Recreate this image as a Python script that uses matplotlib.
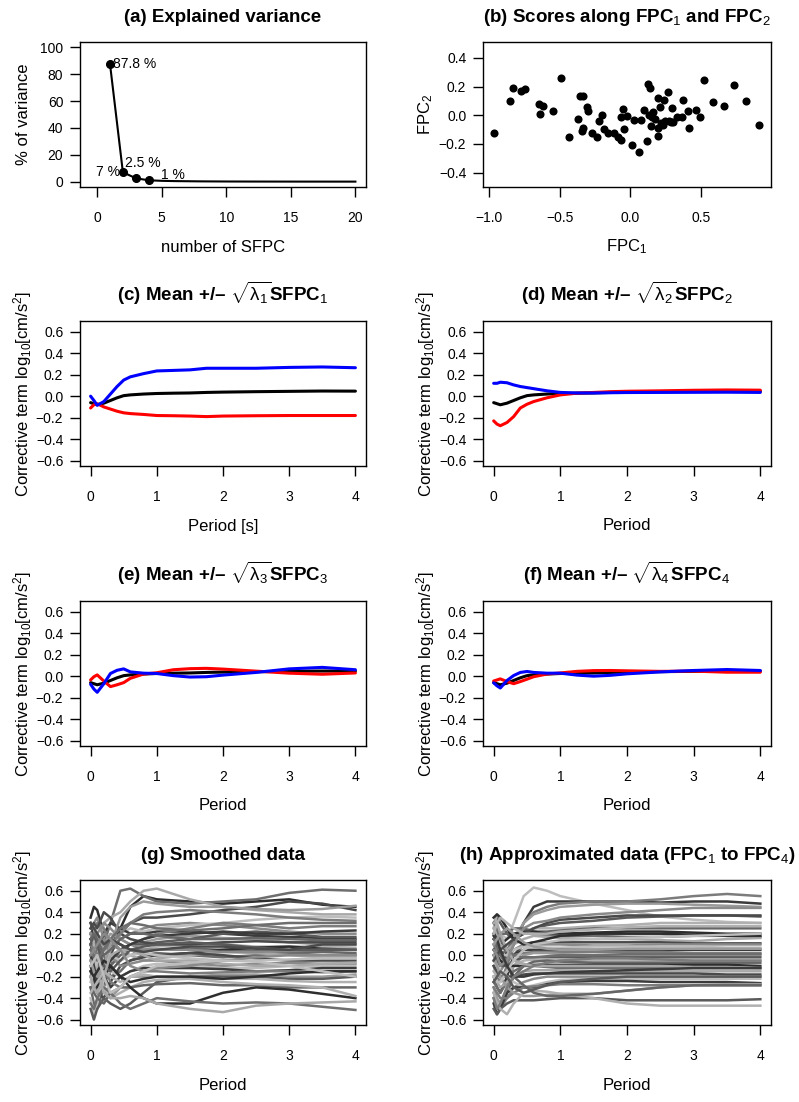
import matplotlib
matplotlib.use('Agg')
import matplotlib.pyplot as plt
import matplotlib as mpl

mpl.rcParams['font.family'] = ['Liberation Sans', 'DejaVu Sans']
mpl.rcParams['mathtext.fontset'] = 'custom'
mpl.rcParams['mathtext.rm'] = 'Liberation Sans'
mpl.rcParams['mathtext.it'] = 'Liberation Sans:italic'
mpl.rcParams['mathtext.bf'] = 'Liberation Sans:bold'

# ---- (a) explained variance ----
n_sfpc = list(range(1, 21))
pct_var = [87.8, 7.0, 2.5, 1.0, 0.6, 0.4, 0.3, 0.2, 0.15, 0.1,
           0.08, 0.06, 0.05, 0.04, 0.03, 0.02, 0.02, 0.01, 0.01, 0.01]

# ---- (b) scores ----
fpc1_scores = [-0.962, -0.851, -0.833, -0.776, -0.745, -0.646, -0.639, -0.616, -0.550, -0.493,
               -0.436, -0.368, -0.354, -0.333, -0.344, -0.333, -0.309, -0.297, -0.269, -0.233,
               -0.219, -0.198, -0.184, -0.158, -0.118, -0.087, -0.068, -0.064, -0.054, -0.042,
               -0.021, 0.012, 0.026, 0.064, 0.078, 0.094, 0.116, 0.127, 0.139, 0.134,
               0.144, 0.153, 0.163, 0.177, 0.193, 0.193, 0.198, 0.208, 0.215, 0.231,
               0.238, 0.248, 0.264, 0.271, 0.285, 0.295, 0.300, 0.328, 0.368, 0.370,
               0.408, 0.417, 0.465, 0.495, 0.517, 0.587, 0.663, 0.733, 0.814, 0.908]
fpc2_scores = [-0.123, 0.097, 0.191, 0.168, 0.184, 0.080, 0.007, 0.066, 0.026, 0.258,
               -0.149, -0.024, 0.135, 0.135, -0.111, -0.092, 0.057, 0.026, -0.121, -0.151,
               -0.038, 0.002, -0.097, -0.121, -0.121, -0.149, -0.170, -0.014, 0.040, -0.097,
               -0.005, -0.206, -0.035, -0.253, -0.033, 0.033, -0.180, 0.217, 0.187, 0.002,
               -0.078, -0.009, 0.021, -0.026, -0.092, 0.118, -0.144, 0.057, -0.052, -0.066,
               0.109, -0.040, 0.163, -0.040, -0.045, 0.047, -0.047, -0.012, -0.014, 0.106,
               0.026, -0.090, 0.035, -0.009, 0.246, 0.090, 0.061, 0.213, 0.099, -0.069]

# ---- (c)-(f) mean +/- sqrt(lambda) SFPC ----
period = [0, 0.05, 0.1, 0.2, 0.3, 0.4, 0.5, 0.6, 0.8, 1.0, 1.25, 1.5, 1.75, 2.0, 2.5, 3.0, 3.5, 4.0]
mean_curve = [-0.06, -0.07, -0.08, -0.065, -0.04, -0.015, 0.005, 0.012, 0.02, 0.025,
              0.028, 0.03, 0.035, 0.038, 0.042, 0.045, 0.048, 0.047]
plus1 = [0.0, -0.04, -0.085, -0.05, 0.02, 0.09, 0.15, 0.18, 0.21, 0.235,
         0.24, 0.245, 0.26, 0.26, 0.26, 0.268, 0.272, 0.265]
minus1 = [-0.11, -0.08, -0.07, -0.1, -0.12, -0.14, -0.155, -0.162, -0.17, -0.18,
          -0.182, -0.185, -0.19, -0.185, -0.182, -0.18, -0.18, -0.18]
plus2 = [0.12, 0.12, 0.13, 0.125, 0.105, 0.09, 0.08, 0.07, 0.05, 0.035,
         0.03, 0.03, 0.032, 0.034, 0.035, 0.036, 0.037, 0.035]
minus2 = [-0.23, -0.26, -0.275, -0.245, -0.19, -0.11, -0.075, -0.05, -0.015, 0.012,
          0.028, 0.035, 0.042, 0.046, 0.05, 0.055, 0.058, 0.056]
plus3 = [-0.075, -0.12, -0.15, -0.07, 0.025, 0.055, 0.068, 0.04, 0.028, 0.025,
         0.005, -0.008, -0.005, 0.01, 0.035, 0.068, 0.082, 0.06]
minus3 = [-0.035, -0.005, 0.012, -0.045, -0.097, -0.08, -0.06, -0.02, 0.02, 0.032,
          0.06, 0.07, 0.073, 0.066, 0.047, 0.028, 0.018, 0.03]
plus4 = [-0.062, -0.09, -0.11, -0.04, 0.006, 0.035, 0.044, 0.035, 0.028, 0.028,
         0.01, 0.0, 0.008, 0.022, 0.04, 0.053, 0.062, 0.053]
minus4 = [-0.045, -0.035, -0.025, -0.05, -0.07, -0.05, -0.028, -0.005, 0.02, 0.03,
          0.045, 0.052, 0.053, 0.05, 0.045, 0.047, 0.037, 0.037]

# ---- (g) smoothed and (h) approximated curves ----
curve_period = [0, 0.05, 0.1, 0.2, 0.3, 0.45, 0.6, 0.8, 1.0, 1.5, 2.0, 2.5, 3.0, 3.5, 4.0]
smoothed = [
    [0.35, 0.45, 0.42, 0.2, 0.1, 0.25, 0.45, 0.55, 0.52, 0.5, 0.48, 0.5, 0.52, 0.47, 0.45],
    [0.1, 0.0, -0.2, 0.1, 0.3, 0.6, 0.62, 0.55, 0.5, 0.48, 0.5, 0.52, 0.58, 0.61, 0.6],
    [-0.2, -0.35, -0.1, 0.3, 0.35, 0.4, 0.5, 0.6, 0.62, 0.52, 0.45, 0.42, 0.4, 0.38, 0.38],
    [0.2, 0.25, 0.1, -0.1, 0.0, 0.2, 0.3, 0.35, 0.35, 0.38, 0.42, 0.45, 0.5, 0.48, 0.42],
    [0.25, 0.3, 0.35, 0.15, 0.05, 0.15, 0.2, 0.25, 0.28, 0.3, 0.28, 0.25, 0.22, 0.2, 0.2],
    [0.05, -0.1, -0.3, -0.2, 0.05, 0.2, 0.25, 0.22, 0.25, 0.28, 0.3, 0.33, 0.35, 0.36, 0.35],
    [0.3, 0.2, 0.05, 0.2, 0.3, 0.25, 0.2, 0.2, 0.22, 0.22, 0.2, 0.18, 0.17, 0.16, 0.15],
    [0.15, 0.2, 0.3, 0.25, 0.1, 0.05, 0.1, 0.15, 0.2, 0.25, 0.3, 0.28, 0.25, 0.27, 0.27],
    [-0.1, -0.2, -0.05, 0.1, 0.2, 0.15, 0.1, 0.12, 0.15, 0.18, 0.16, 0.15, 0.12, 0.1, 0.1],
    [0.2, 0.1, 0.0, -0.15, -0.1, 0.05, 0.1, 0.1, 0.12, 0.15, 0.2, 0.22, 0.2, 0.17, 0.17],
    [0.0, 0.1, 0.2, 0.1, -0.05, -0.05, 0.0, 0.05, 0.08, 0.1, 0.1, 0.08, 0.08, 0.08, 0.07],
    [-0.3, -0.45, -0.5, -0.3, -0.1, 0.0, 0.05, 0.05, 0.05, 0.06, 0.05, 0.04, 0.03, 0.03, 0.02],
    [0.1, 0.0, -0.1, 0.05, 0.15, 0.1, 0.05, 0.0, 0.0, 0.02, 0.05, 0.07, 0.08, 0.06, 0.05],
    [-0.05, 0.05, 0.15, 0.0, -0.2, -0.15, -0.05, 0.0, 0.02, 0.0, -0.02, 0.0, 0.02, 0.0, 0.0],
    [0.3, 0.25, 0.1, -0.1, -0.05, 0.05, 0.0, -0.05, -0.03, 0.0, 0.03, 0.02, 0.0, -0.02, -0.02],
    [-0.15, -0.25, -0.35, -0.4, -0.25, -0.1, -0.05, -0.02, 0.0, 0.02, 0.0, -0.03, -0.05, -0.05, -0.05],
    [0.05, 0.0, 0.05, 0.15, 0.0, -0.1, -0.08, -0.05, -0.05, -0.08, -0.1, -0.08, -0.07, -0.08, -0.08],
    [-0.4, -0.55, -0.45, -0.2, -0.15, -0.2, -0.15, -0.1, -0.08, -0.1, -0.12, -0.12, -0.1, -0.1, -0.1],
    [0.15, 0.1, -0.05, -0.2, -0.3, -0.2, -0.15, -0.12, -0.12, -0.12, -0.13, -0.15, -0.14, -0.12, -0.12],
    [-0.2, -0.1, 0.0, -0.1, -0.25, -0.3, -0.2, -0.15, -0.15, -0.17, -0.16, -0.15, -0.15, -0.16, -0.15],
    [0.0, -0.1, -0.2, -0.35, -0.4, -0.3, -0.2, -0.2, -0.2, -0.2, -0.18, -0.18, -0.2, -0.2, -0.18],
    [-0.5, -0.6, -0.5, -0.4, -0.45, -0.5, -0.45, -0.35, -0.25, -0.2, -0.2, -0.2, -0.22, -0.22, -0.2],
    [0.2, 0.1, -0.1, -0.3, -0.4, -0.35, -0.3, -0.25, -0.23, -0.22, -0.22, -0.22, -0.24, -0.25, -0.25],
    [-0.3, -0.35, -0.4, -0.45, -0.35, -0.3, -0.3, -0.28, -0.27, -0.26, -0.28, -0.28, -0.3, -0.3, -0.3],
    [-0.1, -0.2, -0.3, -0.2, -0.1, -0.2, -0.3, -0.4, -0.45, -0.45, -0.35, -0.3, -0.32, -0.36, -0.4],
    [-0.45, -0.5, -0.4, -0.3, -0.35, -0.45, -0.5, -0.45, -0.4, -0.43, -0.45, -0.44, -0.45, -0.48, -0.51],
    [0.1, 0.05, -0.15, -0.35, -0.4, -0.4, -0.38, -0.4, -0.45, -0.5, -0.53, -0.47, -0.45, -0.44, -0.43],
    [0.25, 0.3, 0.25, 0.4, 0.35, 0.2, 0.15, 0.12, 0.1, 0.1, 0.12, 0.13, 0.12, 0.12, 0.12],
    [0.2, 0.15, 0.2, 0.3, 0.25, 0.15, 0.1, 0.05, 0.05, 0.05, 0.03, 0.03, 0.04, 0.05, 0.05],
    [-0.25, -0.15, -0.05, 0.05, 0.0, -0.05, 0.0, 0.02, 0.0, -0.03, -0.05, -0.05, -0.04, -0.03, -0.03],
    [0.0, -0.1, -0.25, -0.15, -0.05, 0.05, 0.1, 0.15, 0.18, 0.2, 0.22, 0.2, 0.2, 0.22, 0.23],
    [0.1, 0.05, 0.0, 0.05, 0.1, 0.2, 0.3, 0.38, 0.4, 0.42, 0.4, 0.38, 0.35, 0.33, 0.32],
    [-0.05, -0.15, -0.2, -0.1, 0.1, 0.35, 0.45, 0.5, 0.48, 0.45, 0.45, 0.43, 0.42, 0.43, 0.46],
    [0.1, 0.2, 0.1, -0.1, -0.15, -0.05, 0.05, 0.08, 0.1, 0.12, 0.1, 0.07, 0.05, 0.05, 0.05],
    [-0.35, -0.3, -0.25, -0.15, -0.2, -0.25, -0.2, -0.18, -0.2, -0.22, -0.25, -0.27, -0.28, -0.3, -0.38],
    [0.15, 0.2, 0.15, 0.0, 0.05, 0.15, 0.2, 0.2, 0.18, 0.15, 0.15, 0.16, 0.15, 0.14, 0.14],
    [-0.15, -0.2, -0.15, -0.05, -0.1, -0.2, -0.25, -0.22, -0.2, -0.2, -0.22, -0.2, -0.17, -0.15, -0.15],
    [0.05, 0.0, -0.05, 0.05, 0.15, 0.25, 0.3, 0.28, 0.25, 0.23, 0.25, 0.28, 0.3, 0.3, 0.3],
    [-0.2, -0.3, -0.35, -0.2, 0.0, 0.05, 0.05, 0.0, -0.05, -0.05, -0.08, -0.1, -0.1, -0.08, -0.07],
    [0.3, 0.25, 0.2, 0.1, 0.15, 0.1, 0.05, 0.03, 0.05, 0.08, 0.08, 0.06, 0.05, 0.1, 0.1],
    [0.0, 0.05, 0.1, 0.2, 0.15, 0.05, -0.1, -0.15, -0.12, -0.1, -0.05, -0.02, 0.0, 0.0, 0.0],
    [-0.1, -0.05, 0.0, -0.2, -0.35, -0.3, -0.2, -0.15, -0.1, -0.07, -0.05, -0.06, -0.1, -0.15, -0.2],
]
approximated = [
    [0.2, 0.25, 0.2, 0.15, 0.3, 0.55, 0.63, 0.6, 0.55, 0.48, 0.42, 0.36, 0.33, 0.31, 0.3],
    [0.15, 0.2, 0.15, 0.0, 0.1, 0.3, 0.45, 0.5, 0.5, 0.5, 0.5, 0.49, 0.5, 0.5, 0.48],
    [-0.1, -0.2, -0.25, -0.1, 0.1, 0.3, 0.4, 0.45, 0.48, 0.5, 0.5, 0.52, 0.55, 0.57, 0.55],
    [0.0, -0.05, -0.1, 0.0, 0.15, 0.3, 0.38, 0.42, 0.45, 0.47, 0.48, 0.48, 0.47, 0.46, 0.45],
    [0.3, 0.35, 0.3, 0.2, 0.15, 0.2, 0.25, 0.28, 0.3, 0.32, 0.35, 0.36, 0.37, 0.37, 0.36],
    [0.25, 0.38, 0.35, 0.25, 0.2, 0.22, 0.25, 0.25, 0.25, 0.27, 0.28, 0.3, 0.3, 0.3, 0.3],
    [0.2, 0.22, 0.2, 0.2, 0.25, 0.25, 0.22, 0.22, 0.23, 0.25, 0.25, 0.25, 0.25, 0.25, 0.25],
    [0.18, 0.15, 0.1, 0.15, 0.2, 0.22, 0.22, 0.2, 0.2, 0.21, 0.22, 0.22, 0.21, 0.2, 0.2],
    [0.1, 0.05, 0.0, 0.05, 0.15, 0.2, 0.2, 0.18, 0.18, 0.18, 0.17, 0.17, 0.18, 0.18, 0.17],
    [0.25, 0.2, 0.1, 0.05, 0.1, 0.15, 0.18, 0.17, 0.16, 0.15, 0.15, 0.14, 0.13, 0.15, 0.16],
    [0.05, 0.1, 0.05, -0.05, 0.0, 0.1, 0.12, 0.12, 0.12, 0.12, 0.12, 0.12, 0.11, 0.11, 0.11],
    [-0.05, -0.1, -0.15, -0.05, 0.05, 0.1, 0.1, 0.1, 0.1, 0.09, 0.09, 0.1, 0.1, 0.1, 0.1],
    [0.0, 0.05, 0.0, 0.0, 0.05, 0.08, 0.08, 0.07, 0.07, 0.08, 0.08, 0.08, 0.08, 0.07, 0.07],
    [-0.2, -0.3, -0.35, -0.2, 0.0, 0.05, 0.05, 0.05, 0.05, 0.05, 0.05, 0.05, 0.05, 0.05, 0.05],
    [0.1, 0.05, 0.0, -0.05, 0.0, 0.02, 0.03, 0.03, 0.03, 0.03, 0.03, 0.03, 0.02, 0.02, 0.02],
    [-0.3, -0.4, -0.45, -0.3, -0.1, 0.0, 0.02, 0.02, 0.01, 0.0, 0.0, 0.0, 0.0, 0.0, 0.0],
    [0.0, -0.05, -0.1, -0.1, -0.05, -0.02, -0.02, -0.02, -0.02, -0.02, -0.02, -0.02, -0.02, -0.02, -0.02],
    [-0.15, -0.2, -0.2, -0.15, -0.1, -0.05, -0.04, -0.04, -0.04, -0.05, -0.05, -0.05, -0.05, -0.05, -0.05],
    [-0.4, -0.5, -0.5, -0.35, -0.2, -0.1, -0.06, -0.05, -0.06, -0.07, -0.07, -0.07, -0.07, -0.07, -0.07],
    [0.05, 0.0, -0.05, -0.1, -0.1, -0.1, -0.09, -0.09, -0.09, -0.09, -0.09, -0.09, -0.09, -0.09, -0.1],
    [-0.25, -0.3, -0.35, -0.25, -0.15, -0.1, -0.1, -0.11, -0.12, -0.12, -0.12, -0.12, -0.12, -0.12, -0.12],
    [-0.2, -0.25, -0.3, -0.25, -0.2, -0.15, -0.14, -0.14, -0.14, -0.15, -0.15, -0.15, -0.15, -0.15, -0.15],
    [-0.1, -0.15, -0.2, -0.2, -0.2, -0.18, -0.17, -0.17, -0.17, -0.17, -0.17, -0.17, -0.17, -0.18, -0.18],
    [-0.35, -0.45, -0.5, -0.4, -0.3, -0.25, -0.22, -0.2, -0.2, -0.2, -0.2, -0.2, -0.2, -0.2, -0.2],
    [-0.05, -0.1, -0.15, -0.2, -0.25, -0.3, -0.28, -0.25, -0.23, -0.22, -0.22, -0.22, -0.22, -0.22, -0.22],
    [-0.45, -0.55, -0.5, -0.35, -0.3, -0.3, -0.3, -0.27, -0.25, -0.24, -0.24, -0.25, -0.25, -0.25, -0.26],
    [-0.3, -0.35, -0.4, -0.4, -0.35, -0.3, -0.29, -0.28, -0.27, -0.27, -0.28, -0.28, -0.28, -0.28, -0.28],
    [0.0, -0.1, -0.2, -0.3, -0.35, -0.38, -0.38, -0.37, -0.36, -0.36, -0.33, -0.3, -0.28, -0.27, -0.27],
    [-0.5, -0.55, -0.5, -0.45, -0.42, -0.42, -0.42, -0.41, -0.4, -0.4, -0.42, -0.42, -0.42, -0.42, -0.41],
    [-0.35, -0.45, -0.5, -0.55, -0.45, -0.35, -0.33, -0.34, -0.36, -0.4, -0.45, -0.47, -0.47, -0.47, -0.47],
    [0.15, 0.1, 0.0, -0.1, -0.2, -0.28, -0.35, -0.38, -0.38, -0.36, -0.33, -0.3, -0.28, -0.28, -0.28],
    [0.35, 0.38, 0.35, 0.25, 0.15, 0.1, 0.12, 0.15, 0.18, 0.2, 0.2, 0.2, 0.19, 0.18, 0.18],
    [0.3, 0.25, 0.15, 0.05, 0.0, -0.02, -0.02, -0.01, 0.0, 0.0, 0.01, 0.01, 0.01, 0.01, 0.01],
    [0.3, 0.3, 0.2, 0.05, -0.05, -0.08, -0.1, -0.1, -0.1, -0.1, -0.1, -0.1, -0.11, -0.11, -0.12],
    [-0.05, 0.0, 0.05, 0.1, 0.15, 0.2, 0.25, 0.3, 0.33, 0.35, 0.37, 0.37, 0.37, 0.37, 0.37],
    [0.05, 0.0, -0.1, -0.05, 0.1, 0.25, 0.3, 0.32, 0.35, 0.38, 0.4, 0.42, 0.44, 0.44, 0.44],
    [-0.2, -0.25, -0.25, -0.15, -0.05, 0.05, 0.1, 0.12, 0.14, 0.15, 0.16, 0.17, 0.18, 0.19, 0.2],
    [0.2, 0.15, 0.05, -0.1, -0.2, -0.2, -0.18, -0.17, -0.16, -0.15, -0.14, -0.13, -0.12, -0.12, -0.12],
    [-0.4, -0.5, -0.45, -0.3, -0.2, -0.15, -0.1, -0.07, -0.05, -0.03, -0.03, -0.04, -0.05, -0.05, -0.05],
    [0.1, 0.15, 0.2, 0.25, 0.2, 0.12, 0.08, 0.06, 0.05, 0.05, 0.06, 0.06, 0.06, 0.06, 0.06],
    [-0.25, -0.2, -0.15, -0.2, -0.3, -0.35, -0.32, -0.28, -0.25, -0.22, -0.2, -0.2, -0.2, -0.2, -0.2],
    [0.2, 0.3, 0.35, 0.3, 0.25, 0.2, 0.2, 0.2, 0.22, 0.24, 0.26, 0.27, 0.27, 0.27, 0.27],
]
grays = ['#2e2e2e', '#6e6e6e', '#a8a8a8', '#4a4a4a', '#8a8a8a', '#bdbdbd',
         '#3b3b3b', '#7c7c7c', '#9a9a9a', '#5a5a5a', '#b0b0b0', '#666666']

W, H = 799, 1102
fig = plt.figure(figsize=(W / 100, H / 100), dpi=100)

TICK_FS = 10
LAB_FS = 12
TITLE_FS = 13.5
AX_H = 145


def make_ax(x0, top, w):
    ax = fig.add_axes([x0 / W, 1 - (top + AX_H) / H, w / W, AX_H / H])
    for s in ax.spines.values():
        s.set_linewidth(1.0)
    ax.tick_params(direction='out', length=7, width=1.0, labelsize=TICK_FS)
    ax.tick_params(axis='x', pad=10)
    ax.tick_params(axis='y', pad=5)
    return ax


def finish(ax, w, title, xlabel, ylabel):
    ax.set_xlabel(xlabel, fontsize=LAB_FS)
    ax.set_ylabel(ylabel, fontsize=LAB_FS)
    ax.xaxis.set_label_coords(0.5, -60 / AX_H)
    ax.xaxis.label.set_va('center')
    ax.yaxis.set_label_coords(-57 / w, 0.5)
    ax.yaxis.label.set_va('center')
    ax.text(0.5, 1 + 20 / AX_H, title, transform=ax.transAxes, ha='center',
            va='baseline', fontsize=TITLE_FS, fontweight='bold')


YLAB = r'Corrective term log$_{10}$[cm/s$^2$]'
cols = [(80, 286), (483, 288)]
tops = [42, 321, 601, 880]

# (a)
x0, w = cols[0]
ax = make_ax(x0, tops[0], w)
ax.plot(n_sfpc, pct_var, color='black', lw=1.5)
ax.plot(n_sfpc[:4], pct_var[:4], 'o', color='black', ms=5.5)
ax.text(n_sfpc[0] + 0.25, pct_var[0], '87.8 %', fontsize=TICK_FS, ha='left', va='center')
ax.text(n_sfpc[1] - 0.25, pct_var[1], '7 %', fontsize=TICK_FS, ha='right', va='center')
ax.text(n_sfpc[2] - 0.8, pct_var[2] + 11.5, '2.5 %', fontsize=TICK_FS, ha='left', va='center')
ax.text(n_sfpc[3] + 0.95, pct_var[3] + 4.0, '1 %', fontsize=TICK_FS, ha='left', va='center')
ax.set_xlim(-1.32, 20.82)
ax.set_ylim(-4, 104)
ax.set_xticks([0, 5, 10, 15, 20])
ax.set_yticks([0, 20, 40, 60, 80, 100])
finish(ax, w, '(a) Explained variance', 'number of SFPC', '% of variance')

# (b)
x0, w = cols[1]
ax = make_ax(x0, tops[0], w)
ax.scatter(fpc1_scores, fpc2_scores, s=34, color='black', linewidths=0)
ax.set_xlim(-1.042, 0.994)
ax.set_ylim(-0.5, 0.51)
ax.set_xticks([-1.0, -0.5, 0.0, 0.5])
ax.set_xticklabels(['\u22121.0', '\u22120.5', '0.0', '0.5'])
ax.set_yticks([-0.4, -0.2, 0.0, 0.2, 0.4])
ax.set_yticklabels(['\u22120.4', '\u22120.2', '0.0', '0.2', '0.4'])
finish(ax, w, r'(b) Scores along FPC$_1$ and FPC$_2$', r'FPC$_1$', r'FPC$_2$')

ytk = [-0.6, -0.4, -0.2, 0.0, 0.2, 0.4, 0.6]
ytl = ['\u22120.6', '\u22120.4', '\u22120.2', '0.0', '0.2', '0.4', '0.6']


def curve_axes(ax):
    ax.set_xlim(-0.16, 4.16)
    ax.set_ylim(-0.65, 0.70)
    ax.set_xticks([0, 1, 2, 3, 4])
    ax.set_yticks(ytk)
    ax.set_yticklabels(ytl)


panels = [
    ('c', plus1, minus1, 'Period [s]'),
    ('d', plus2, minus2, 'Period'),
    ('e', plus3, minus3, 'Period'),
    ('f', plus4, minus4, 'Period'),
]
for i, (letter, plus, minus, xl) in enumerate(panels):
    k = i + 1
    x0, w = cols[i % 2]
    ax = make_ax(x0, tops[1 + i // 2], w)
    ax.plot(period, mean_curve, color='black', lw=2.2, solid_capstyle='round')
    ax.plot(period, minus, color='#ff0000', lw=2.2, solid_capstyle='round')
    ax.plot(period, plus, color='#0000ff', lw=2.2, solid_capstyle='round')
    curve_axes(ax)
    title = '(%s) Mean +/\u2013 $\\sqrt{\\mathrm{\\lambda}_%d}$SFPC$_%d$' % (letter, k, k)
    finish(ax, w, title, xl, YLAB)

# (g)
x0, w = cols[0]
ax = make_ax(x0, tops[3], w)
for j, c in enumerate(smoothed):
    ax.plot(curve_period, c, color=grays[j % len(grays)], lw=1.8, solid_joinstyle='round')
curve_axes(ax)
finish(ax, w, '(g) Smoothed data', 'Period', YLAB)

# (h)
x0, w = cols[1]
ax = make_ax(x0, tops[3], w)
for j, c in enumerate(approximated):
    ax.plot(curve_period, c, color=grays[(j + 5) % len(grays)], lw=1.8, solid_joinstyle='round')
curve_axes(ax)
finish(ax, w, r'(h) Approximated data (FPC$_1$ to FPC$_4$)', 'Period', YLAB)

fig.savefig('out.png', dpi=100)
